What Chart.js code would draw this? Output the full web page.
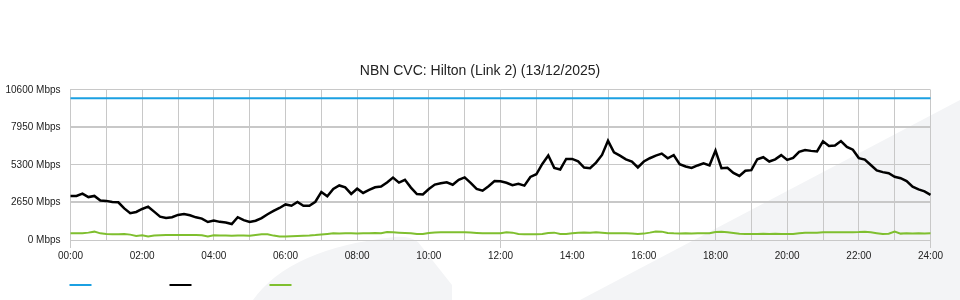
<!DOCTYPE html>
<html>
<head>
<meta charset="utf-8">
<script src="https://cdn.jsdelivr.net/npm/chart.js@4/dist/chart.umd.min.js"></script>
<style>
  html, body { margin: 0; padding: 0; background: #fff; }
  #wrap { width: 960px; height: 300px; position: relative; }
</style>
</head>
<body>
<div id="wrap"><canvas id="cvc"></canvas></div>
<script>
// 数据：每 10 分钟一个点（00:00 - 24:00）
const chartTitle = 'NBN CVC: Hilton (Link 2) (13/12/2025)';
const yTicks = [0, 2650, 5300, 7950, 10600];
const capacityMbps = [10000, 10000];

const inboundMbps = [
  3110, 3110, 3270, 3030, 3110, 2780, 2760, 2690, 2660, 2230,
  1890, 1980, 2190, 2350, 2000, 1650, 1550, 1610, 1770, 1840,
  1750, 1600, 1510, 1270, 1380, 1280, 1230, 1130, 1610, 1400,
  1270, 1360, 1550, 1820, 2050, 2260, 2510, 2420, 2690, 2420,
  2420, 2700, 3390, 3080, 3600, 3850, 3710, 3250, 3620, 3320,
  3530, 3720, 3770, 4060, 4410, 4050, 4250, 3700, 3240, 3210,
  3600, 3910, 4010, 4070, 3900, 4250, 4420, 4030, 3600, 3480,
  3800, 4160, 4140, 4040, 3870, 3960, 3840, 4450, 4640, 5370,
  5960, 5090, 4980, 5720, 5720, 5550, 5110, 5070, 5460, 6000,
  7000, 6180, 5950, 5690, 5540, 5120, 5540, 5770, 5960, 6100,
  5770, 5990, 5350, 5190, 5080, 5260, 5410, 5270, 6310, 5070,
  5090, 4730, 4520, 4890, 4930, 5700, 5840, 5540, 5690, 5990,
  5650, 5790, 6220, 6350, 6290, 6250, 6960, 6640, 6670, 6980,
  6570, 6370, 5780, 5680, 5290, 4910, 4790, 4710, 4460, 4360,
  4160, 3760, 3570, 3430, 3190
];

const outboundMbps = [
  470, 470, 470, 520, 590, 470, 430, 410, 400, 420,
  380, 290, 330, 250, 320, 340, 360, 350, 360, 350,
  350, 350, 330, 240, 330, 310, 310, 300, 310, 310,
  300, 360, 400, 410, 310, 240, 240, 260, 280, 300,
  320, 350, 390, 430, 470, 460, 480, 470, 460, 480,
  470, 490, 480, 560, 540, 520, 500, 470, 430, 420,
  500, 530, 550, 540, 550, 550, 540, 530, 500, 470,
  480, 470, 480, 540, 520, 430, 410, 400, 400, 430,
  500, 520, 430, 420, 480, 510, 530, 520, 540, 520,
  480, 470, 470, 470, 460, 430, 450, 520, 600, 590,
  500, 470, 460, 470, 460, 480, 470, 470, 560, 580,
  550, 500, 440, 420, 420, 430, 440, 420, 440, 430,
  420, 420, 470, 510, 520, 510, 540, 540, 550, 540,
  540, 550, 560, 580, 540, 480, 420, 440, 600, 450,
  470, 450, 470, 460, 470
];

// 时间标签
const timeLabels = inboundMbps.map((_, i) => {
  const h = String(Math.floor(i / 6)).padStart(2, '0');
  const m = String((i % 6) * 10).padStart(2, '0');
  return `${h}:${m}`;
});

const colors = {
  capacity: '#1ba0e2',
  inbound: '#000000',
  outbound: '#7fbf2f',
  grid: '#c8c8c8',
  text: '#222222',
  watermark: '#f3f4f6'
};

/**
 * 背景水印（浅灰色弧形）
 */
const watermarkPlugin = {
  id: 'watermark',
  beforeDraw(chart) {
    const { ctx } = chart;
    ctx.save();
    ctx.fillStyle = colors.watermark;
    ctx.beginPath();
    ctx.moveTo(253, 300);
    ctx.quadraticCurveTo(290, 248, 395, 237);
    ctx.quadraticCurveTo(410, 236, 418, 242);
    ctx.lineTo(452, 285);
    ctx.lineTo(452, 300);
    ctx.closePath();
    ctx.fill();
    ctx.beginPath();
    ctx.moveTo(580, 300);
    ctx.lineTo(960, 100);
    ctx.lineTo(960, 300);
    ctx.closePath();
    ctx.fill();
    ctx.restore();
  }
};

/**
 * 底部图例：只画线段，不带文字
 */
const lineLegendPlugin = {
  id: 'lineLegend',
  afterDraw(chart) {
    const { ctx, chartArea } = chart;
    ctx.save();
    ctx.lineWidth = 2;
    chart.data.datasets.forEach((ds, i) => {
      const x = chartArea.left - 1 + i * 100;
      ctx.strokeStyle = ds.borderColor;
      ctx.beginPath();
      ctx.moveTo(x, 285);
      ctx.lineTo(x + 22, 285);
      ctx.stroke();
    });
    ctx.restore();
  }
};

Chart.defaults.font.family = '"Liberation Sans", Arial, sans-serif';
Chart.defaults.font.size = 10;
Chart.defaults.color = colors.text;

new Chart(document.getElementById('cvc'), {
  type: 'line',
  data: {
    labels: timeLabels,
    datasets: [
      {
        label: 'Capacity',
        data: [
          { x: timeLabels[0], y: capacityMbps[0] },
          { x: timeLabels[timeLabels.length - 1], y: capacityMbps[1] }
        ],
        borderColor: colors.capacity,
        borderWidth: 2
      },
      {
        label: 'Inbound',
        data: inboundMbps,
        borderColor: colors.inbound,
        borderWidth: 2.5
      },
      {
        label: 'Outbound',
        data: outboundMbps,
        borderColor: colors.outbound,
        borderWidth: 2
      }
    ]
  },
  options: {
    responsive: true,
    maintainAspectRatio: false,
    animation: false,
    elements: { point: { radius: 0 }, line: { tension: 0 } },
    layout: { padding: { left: 3, right: 3, top: 0, bottom: 12 } },
    plugins: {
      legend: { display: false },
      tooltip: { enabled: false },
      title: {
        display: true,
        text: chartTitle,
        color: colors.text,
        font: { size: 14, weight: 'normal' },
        padding: { top: 63, bottom: 10 }
      }
    },
    scales: {
      x: {
        type: 'category',
        offset: false,
        border: { color: colors.grid },
        grid: {
          color: colors.grid,
          tickLength: 8,
          tickColor: (c) => (c.index % 12 === 0 ? colors.grid : 'rgba(0,0,0,0)')
        },
        ticks: {
          autoSkip: false,
          maxRotation: 0,
          padding: 2,
          callback: (val, idx) => {
            if (idx % 6 !== 0) return null;
            return idx % 12 === 0 ? timeLabels[idx] : '';
          }
        },
        afterFit: (scale) => { scale.height = 48; }
      },
      y: {
        min: yTicks[0],
        max: yTicks[yTicks.length - 1],
        border: { color: colors.grid },
        grid: {
          color: colors.grid,
          drawTicks: false,
          lineWidth: (c) => (c.index === 1 || c.index === 3 ? 2 : 1)
        },
        afterBuildTicks: (scale) => {
          scale.ticks = yTicks.map((v) => ({ value: v }));
        },
        ticks: {
          padding: 10,
          callback: (v) => `${v} Mbps`
        },
        afterFit: (scale) => { scale.width = 67.5; }
      },
      // 右侧占位轴，让绘图区右边留白而标题仍居中
      yRight: {
        position: 'right',
        display: true,
        border: { display: false },
        grid: { display: false, drawTicks: false },
        ticks: { display: false },
        afterFit: (scale) => { scale.width = 26.5; }
      }
    }
  },
  plugins: [watermarkPlugin, lineLegendPlugin]
});
</script>
</body>
</html>
